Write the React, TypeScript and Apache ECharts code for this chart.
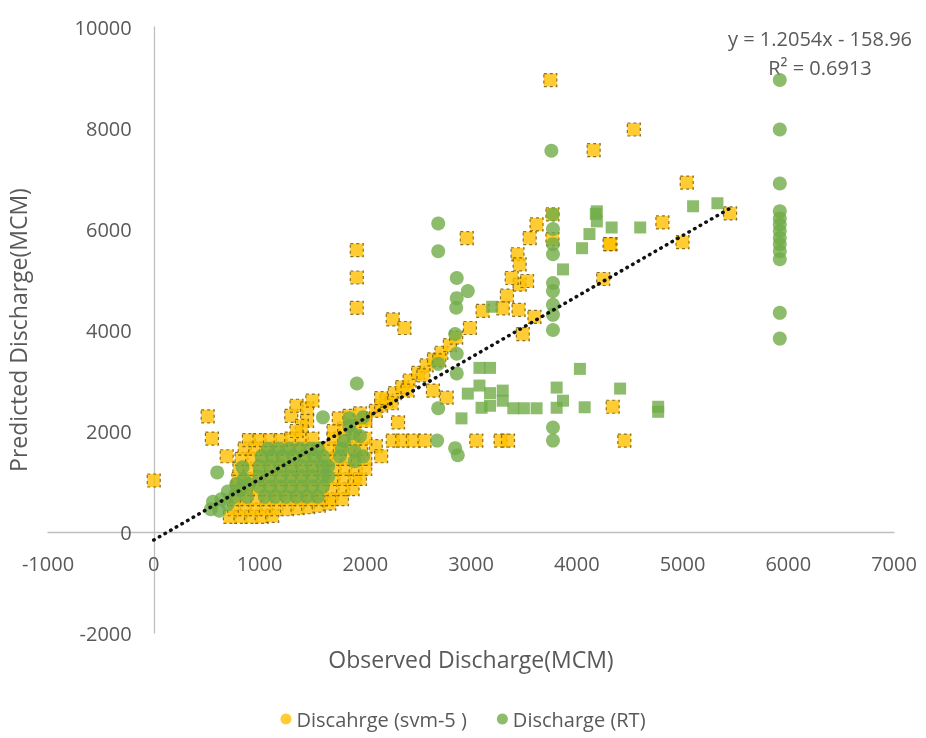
import React, { useEffect, useRef } from "react";
import * as echarts from "echarts";

const xTicks = { min: -1000, max: 7000, interval: 1000 };
const yTicks = { min: -2000, max: 10000, interval: 2000 };

const svmName = "Discahrge (svm-5 )";
const rtName = "Discharge (RT)";

const svmPoints: number[][] = [
  [0, 1020], [510, 2290], [550, 1850], [690, 1500],
  [1920, 5580], [1920, 5040], [1920, 4440], [2260, 4210], [2370, 4040],
  [3750, 8950], [4540, 7970], [4160, 7560], [5040, 6920], [4810, 6130], [5450, 6310],
  [4320, 5700], [5000, 5740], [4250, 5010], [4340, 2480], [4450, 1810],
  [2960, 5820], [3620, 6090], [3555, 5820], [3440, 5500], [3770, 6290], [3770, 5800], [4310, 5700],
  [3460, 5300], [3460, 4900], [3385, 5030], [3530, 4970], [3340, 4680], [3110, 4380],
  [3300, 4430], [3450, 4400], [3600, 4260], [3490, 3920], [2990, 4040],
  [2000, 2250], [2100, 2400], [2150, 2500], [2200, 2600], [2280, 2750], [2350, 2870], [2420, 3000],
  [2500, 3150], [2580, 3300], [2650, 3420], [2720, 3550], [2800, 3700], [2860, 3850],
  [2250, 2550], [2400, 2800], [2550, 3100], [2700, 3400], [2150, 2650],
  [2640, 2800], [2770, 2660],
  [2260, 1810], [2350, 1810], [2450, 1810], [2560, 1810], [3050, 1810], [3280, 1810], [3350, 1810], [2310, 2170],
  [2100, 1700], [2150, 1500],
  // main cluster
  [720, 300], [820, 300], [920, 300], [1020, 300], [1120, 320],
  [760, 450], [860, 450], [960, 450], [1060, 450], [1160, 450], [1260, 450], [1360, 470], [1460, 490], [1560, 520], [1660, 560],
  [780, 650], [880, 650], [980, 650], [1080, 650], [1180, 650], [1280, 650], [1380, 650], [1480, 650], [1580, 650], [1680, 650], [1780, 650],
  [790, 850], [890, 850], [990, 850], [1090, 850], [1190, 850], [1290, 850], [1390, 850], [1490, 850], [1590, 850], [1690, 850], [1790, 850], [1880, 850],
  [800, 1050], [900, 1050], [1000, 1050], [1100, 1050], [1200, 1050], [1300, 1050], [1400, 1050], [1500, 1050], [1600, 1050], [1700, 1050], [1800, 1050], [1900, 1050], [1950, 1050],
  [810, 1250], [910, 1250], [1010, 1250], [1110, 1250], [1210, 1250], [1310, 1250], [1410, 1250], [1510, 1250], [1610, 1250], [1710, 1250], [1810, 1250], [1910, 1250], [2000, 1250],
  [830, 1450], [930, 1450], [1030, 1450], [1130, 1450], [1230, 1450], [1330, 1450], [1430, 1450], [1530, 1450], [1630, 1450], [1730, 1450], [1830, 1450], [1930, 1450], [2000, 1450],
  [860, 1650], [960, 1650], [1060, 1650], [1160, 1650], [1260, 1650], [1360, 1650], [1460, 1650], [1560, 1650], [1660, 1650], [1760, 1650], [1860, 1650], [1960, 1650],
  [900, 1820], [1000, 1820], [1100, 1820], [1200, 1820], [1300, 1850], [1400, 1850], [1500, 1850], [1700, 1850], [1800, 1850], [1900, 1850], [2000, 1850],
  [1700, 2000], [1800, 2050], [1900, 2100], [2000, 2200], [1750, 2250], [1850, 2300], [1950, 2350],
  [1300, 2300], [1350, 2500], [1450, 2450], [1500, 2600], [1450, 2200], [1400, 2100], [1350, 2000],
];

const rtCirclePoints: number[][] = [
  // main cluster, lower-left part
  [540, 450], [560, 600], [620, 420], [640, 650], [700, 550], [700, 800], [760, 700], [780, 950],
  [820, 850], [850, 1050], [880, 700], [900, 950], [600, 1180], [840, 1280],
  // main cluster, centre
  [1050, 700], [1150, 700], [1250, 700], [1350, 700], [1450, 700], [1550, 700],
  [1000, 900], [1100, 900], [1200, 900], [1300, 900], [1400, 900], [1500, 900], [1600, 900],
  [1000, 1100], [1100, 1100], [1200, 1100], [1300, 1100], [1400, 1100], [1500, 1100], [1600, 1100], [1650, 1100],
  [1000, 1300], [1100, 1300], [1200, 1300], [1300, 1300], [1400, 1300], [1500, 1300], [1600, 1300], [1650, 1300],
  [1020, 1500], [1120, 1500], [1220, 1500], [1320, 1500], [1420, 1500], [1520, 1500], [1600, 1500],
  [1080, 1650], [1180, 1650], [1280, 1650], [1380, 1650], [1480, 1650], [1550, 1650],
  // main cluster, right part
  [1760, 1500], [1800, 1800], [1850, 2100], [1900, 1600], [1950, 1900], [1980, 2270], [1900, 1400],
  [1980, 1500], [1850, 2250], [1780, 1650], [1880, 1950],
  [1600, 2270], [1920, 2940],
  [2690, 6110], [2690, 5560], [2865, 5030], [2970, 4770], [2865, 4630], [2860, 4440], [2850, 3920],
  [2865, 3530], [2865, 3140], [2690, 3330], [2690, 2450], [2680, 1810], [2850, 1660], [2875, 1520],
  [3760, 7550],
  [3775, 6290], [3775, 6000], [3775, 5700], [3775, 5500], [3775, 4930], [3775, 4770], [3775, 4500],
  [3775, 4300], [3775, 4000], [3775, 2070], [3775, 1810],
  [5920, 8950], [5920, 7970], [5920, 6900], [5920, 6350], [5920, 6210], [5920, 6090], [5920, 5960],
  [5920, 5820], [5920, 5700], [5920, 5560], [5920, 5400], [5920, 4340], [5920, 3830],
];

const rtSquarePoints: number[][] = [
  [5100, 6450], [5330, 6510], [4600, 6030], [4330, 6030], [4190, 6350], [4190, 6150], [4120, 5900],
  [4050, 5620], [4180, 6300], [3870, 5200], [3200, 4460], [2970, 2740], [2910, 2250],
  [3080, 3250], [3180, 3250], [3080, 2900], [3180, 2750], [3180, 2500], [3100, 2460],
  [3300, 2800], [3300, 2600], [3400, 2450], [3500, 2450], [3620, 2450],
  [3810, 2860], [3870, 2600], [3810, 2460], [4030, 3230], [4075, 2470], [4410, 2840],
  [4770, 2380], [4770, 2480],
];

const trendSlope = 1.2054;
const trendIntercept = -158.96;
const trendXRange = [0, 5450];
const trendLabel = "y = 1.2054x - 158.96";
const r2Label = "R\u00B2 = 0.6913";

const FONT = "'Open Sans', 'Noto Sans', sans-serif";
const TEXT = "#595959";

export default function App() {
  const ref = useRef<HTMLDivElement>(null);
  useEffect(() => {
    if (!ref.current) return;
    const chart = echarts.init(ref.current, undefined, { renderer: "svg" });
    const trendData = trendXRange.map((x) => [x, trendSlope * x + trendIntercept]);
    chart.setOption({
      animation: false,
      textStyle: { fontFamily: FONT },
      grid: { left: 48, right: 32, top: 27, bottom: 105, containLabel: false, outerBoundsMode: "none" },
      xAxis: {
        type: "value",
        min: xTicks.min,
        max: xTicks.max,
        interval: xTicks.interval,
        offset: -101,
        name: "Observed Discharge(MCM)",
        nameLocation: "middle",
        nameGap: 115,
        nameTextStyle: { color: TEXT, fontSize: 23, fontFamily: FONT },
        axisLine: { onZero: false, lineStyle: { color: "#BFBFBF", width: 1.3 } },
        axisTick: { show: false },
        splitLine: { show: false },
        axisLabel: { color: TEXT, fontSize: 20, margin: 21, fontFamily: FONT, formatter: (v: number) => String(v) },
      },
      yAxis: {
        type: "value",
        min: yTicks.min,
        max: yTicks.max,
        interval: yTicks.interval,
        offset: -105.75,
        name: "Predicted Discharge(MCM)",
        nameLocation: "middle",
        nameRotate: 90,
        nameGap: 124,
        nameTextStyle: { color: TEXT, fontSize: 23, fontFamily: FONT },
        axisLine: { onZero: false, lineStyle: { color: "#BFBFBF", width: 1.3 } },
        axisTick: { show: false },
        splitLine: { show: false },
        axisLabel: { color: TEXT, fontSize: 20, margin: 22, fontFamily: FONT, formatter: (v: number) => String(v) },
      },
      legend: {
        bottom: 4,
        left: "center",
        icon: "circle",
        itemWidth: 11,
        itemHeight: 11,
        itemGap: 30,
        textStyle: { color: TEXT, fontSize: 20, fontFamily: FONT },
        itemStyle: { borderWidth: 0 },
        data: [svmName, rtName],
      },
      graphic: [
        {
          type: "text",
          x: 820,
          y: 38,
          style: { text: trendLabel, fill: TEXT, fontSize: 20, fontFamily: FONT, textAlign: "center", textVerticalAlign: "middle" },
        },
        {
          type: "text",
          x: 820,
          y: 67,
          style: { text: r2Label, fill: TEXT, fontSize: 20, fontFamily: FONT, textAlign: "center", textVerticalAlign: "middle" },
        },
      ],
      series: [
        {
          type: "scatter",
          name: svmName,
          data: svmPoints,
          symbol: "rect",
          symbolSize: 13,
          itemStyle: { color: "#FFC000", borderColor: "#6b5410", borderWidth: 1.2, borderType: [3, 3] },
        },
        {
          type: "scatter",
          name: rtName,
          data: rtCirclePoints,
          symbol: "circle",
          symbolSize: 14,
          itemStyle: { color: "#70AD47" },
        },
        {
          type: "scatter",
          name: rtName,
          data: rtSquarePoints,
          symbol: "rect",
          symbolSize: 12,
          itemStyle: { color: "#70AD47" },
        },
        {
          type: "line",
          name: "trend",
          data: trendData,
          showSymbol: false,
          symbol: "none",
          silent: true,
          lineStyle: { color: "#111", width: 3.5, type: [0.5, 6], cap: "round" },
          z: 5,
        },
      ],
    });
    return () => chart.dispose();
  }, []);
  return <div ref={ref} style={{ position: "fixed", left: 0, top: 0, width: 926, height: 738 }} />;
}
